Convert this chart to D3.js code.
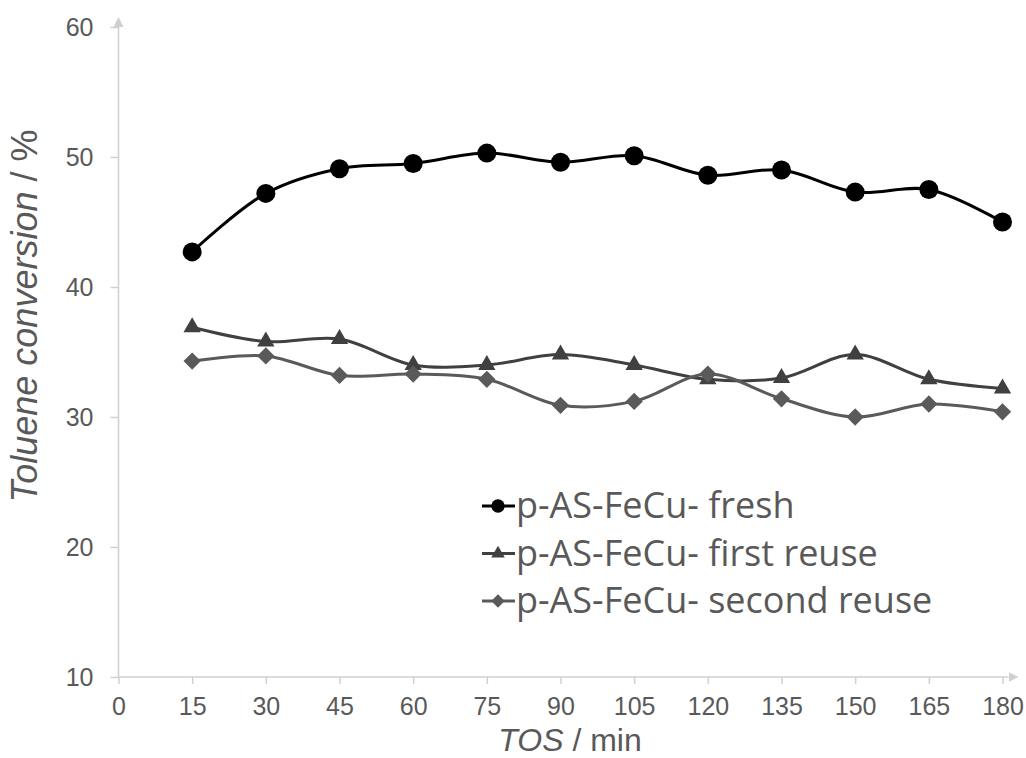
<!DOCTYPE html>
<html>
<head>
<meta charset="utf-8">
<script src="https://cdn.jsdelivr.net/npm/d3@7"></script>
<style>
  body { margin: 0; background: #fff; }
  svg { display: block; }
  .tick text { font-family: "Liberation Sans", Arial, sans-serif; font-size: 25px; fill: #595959; }
  .tick line { stroke: #d0d0d0; stroke-width: 1.5; }
  .axis-title { font-family: "Liberation Sans", Arial, sans-serif; font-size: 35px; fill: #595959; }
  .legend-text { font-family: "Open Sans", sans-serif; font-size: 36px; fill: #595959; }
</style>
</head>
<body>
<svg id="chart" width="1026" height="758"></svg>
<script>
var tos = [15, 30, 45, 60, 75, 90, 105, 120, 135, 150, 165, 180];
var fresh = [42.7, 47.2, 49.1, 49.5, 50.3, 49.6, 50.1, 48.6, 49.0, 47.3, 47.5, 45.0];
var firstReuse = [36.9, 35.8, 36.0, 34.0, 34.0, 34.8, 34.0, 32.9, 33.0, 34.8, 32.9, 32.2];
var secondReuse = [34.3, 34.7, 33.2, 33.3, 32.9, 30.9, 31.2, 33.3, 31.4, 30.0, 31.0, 30.4];
var seriesNames = ['p-AS-FeCu- fresh', 'p-AS-FeCu- first reuse', 'p-AS-FeCu- second reuse'];
var xTicks = [0, 15, 30, 45, 60, 75, 90, 105, 120, 135, 150, 165, 180];
var yTicks = [10, 20, 30, 40, 50, 60];

var svg = d3.select('#chart');

var x = d3.scaleLinear().domain([0, 180]).range([118.5, 1002.5]);
var y = d3.scaleLinear().domain([10, 60]).range([677, 27]);

// arrow heads for the axes
var defs = svg.append('defs');
defs.append('marker')
    .attr('id', 'arrow')
    .attr('viewBox', '0 0 10 10')
    .attr('refX', 0)
    .attr('refY', 5)
    .attr('markerUnits', 'userSpaceOnUse')
    .attr('markerWidth', 10)
    .attr('markerHeight', 12)
    .attr('orient', 'auto')
  .append('path')
    .attr('d', 'M0,0L10,5L0,10Z')
    .attr('fill', '#d0d0d0');

var yAxis = svg.append('g')
    .attr('transform', 'translate(' + x(0) + ',0)')
    .call(d3.axisLeft(y).tickValues(yTicks).tickSize(8).tickSizeOuter(0).tickPadding(17));
yAxis.select('.domain').remove();

var xAxis = svg.append('g')
    .attr('transform', 'translate(0,' + y(10) + ')')
    .call(d3.axisBottom(x).tickValues(xTicks).tickSize(7).tickSizeOuter(0).tickPadding(13));
xAxis.select('.domain').remove();

svg.append('line')
    .attr('x1', x(0)).attr('x2', x(0))
    .attr('y1', y(10)).attr('y2', y(60))
    .attr('stroke', '#d0d0d0').attr('stroke-width', 1.5)
    .attr('marker-end', 'url(#arrow)');

svg.append('line')
    .attr('x1', x(0)).attr('x2', x(180) + 6)
    .attr('y1', y(10)).attr('y2', y(10))
    .attr('stroke', '#d0d0d0').attr('stroke-width', 1.5)
    .attr('marker-end', 'url(#arrow)');

// axis titles
var yTitle = svg.append('text')
    .attr('class', 'axis-title')
    .style('font-size', '36px')
    .attr('transform', 'translate(37,' + 316 + ') rotate(-90)')
    .attr('text-anchor', 'middle');
yTitle.append('tspan').style('font-style', 'italic').text('Toluene conversion');
yTitle.append('tspan').text(' / %');

var xTitle = svg.append('text')
    .attr('class', 'axis-title')
    .style('font-size', '32px')
    .attr('x', 570)
    .attr('y', 751)
    .attr('text-anchor', 'middle');
xTitle.append('tspan').style('font-style', 'italic').text('TOS');
xTitle.append('tspan').text(' / min');

var series = [
    { name: seriesNames[0], values: fresh, color: '#000000', shape: 'circle' },
    { name: seriesNames[1], values: firstReuse, color: '#404040', shape: 'triangle' },
    { name: seriesNames[2], values: secondReuse, color: '#5a5a5a', shape: 'diamond' }
];

var markerPath = function(shape, big) {
    if (shape == 'circle') return d3.symbol(d3.symbolCircle, big ? 284 : 140)();
    if (shape == 'triangle') return d3.symbol(d3.symbolTriangle, big ? 130 : 80)();
    return d3.symbol(d3.symbolSquare, big ? 150 : 90)();
};

var line = d3.line()
    .x(function(d) { return x(d[0]); })
    .y(function(d) { return y(d[1]); })
    .curve(d3.curveCatmullRom.alpha(0.5));

series.forEach(function(s) {
    var pts = tos.map(function(t, i) { return [t, s.values[i]]; });
    var g = svg.append('g');
    g.append('path')
        .datum(pts)
        .attr('d', line)
        .attr('fill', 'none')
        .attr('stroke', s.color)
        .attr('stroke-width', 3);
    g.selectAll('.pt')
        .data(pts)
        .enter()
        .append('path')
        .attr('class', 'pt')
        .attr('d', markerPath(s.shape, true))
        .attr('fill', s.color)
        .attr('transform', function(d) {
            return 'translate(' + x(d[0]) + ',' + y(d[1]) + ')' + (s.shape == 'diamond' ? ' rotate(45)' : '');
        });
});

// legend
var legend = svg.selectAll('.legend')
    .data(series)
    .enter()
    .append('g')
    .attr('class', 'legend')
    .attr('transform', function(s, i) { return 'translate(482,' + (506 + i * 47.5) + ')'; });

legend.append('line')
    .attr('x1', 0).attr('x2', 33)
    .attr('y1', 0).attr('y2', 0)
    .attr('stroke', function(s) { return s.color; })
    .attr('stroke-width', 3);

legend.append('path')
    .attr('d', function(s) { return markerPath(s.shape, false); })
    .attr('fill', function(s) { return s.color; })
    .attr('transform', function(s) { return 'translate(16,0)' + (s.shape == 'diamond' ? ' rotate(45)' : ''); });

legend.append('text')
    .attr('class', 'legend-text')
    .attr('x', 34)
    .attr('y', 12)
    .text(function(s) { return s.name; });
</script>
</body>
</html>
